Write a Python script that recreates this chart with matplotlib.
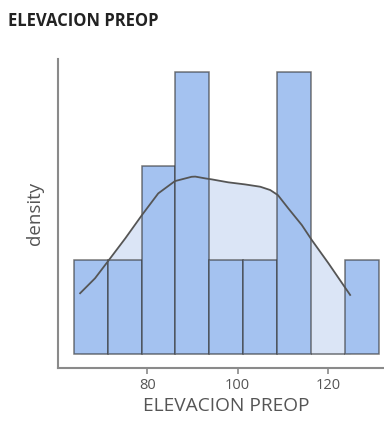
import matplotlib
matplotlib.use("Agg")
import matplotlib.pyplot as plt

# ── data ──────────────────────────────────────────────────────────────────────
bin_edges = [63.7, 71.2, 78.7, 86.2, 93.7, 101.2, 108.7, 116.2, 123.7, 131.2]
counts    = [1, 1, 2, 3, 1, 1, 3, 0, 1]

kde_x = [65.1, 68.4, 71.2, 75.1, 78.8, 82.4, 86.1, 89.8, 90.6, 92.8, 94.3,
         97.9, 101.6, 105.0, 107.2, 108.9, 111.2, 114.2, 116.4, 120.1, 124.9]
kde_y = [0.646, 0.805, 0.982, 1.230, 1.479, 1.709, 1.840, 1.886, 1.888, 1.869, 1.858,
         1.827, 1.805, 1.780, 1.745, 1.691, 1.550, 1.372, 1.213, 0.965, 0.628]

BAR_COLOR  = "#a4c2f0"
FILL_COLOR = "#dbe5f6"
LINE_COLOR = "#555555"
AXIS_COLOR = "#8a8a8a"

fig = plt.figure(figsize=(3.84, 4.23), dpi=100)
ax = fig.add_axes([0.151, 0.130, 0.849, 0.7305])

# KDE fill behind the bars, line on top
ax.fill_between(kde_x, kde_y, 0, color=FILL_COLOR, linewidth=0, zorder=1)
widths = [b - a for a, b in zip(bin_edges[:-1], bin_edges[1:])]
ax.bar(bin_edges[:-1], counts, width=widths, align="edge", color=BAR_COLOR,
       edgecolor=(0.2, 0.2, 0.2, 0.65), linewidth=1.1, zorder=2)
ax.plot(kde_x, kde_y, color=LINE_COLOR, linewidth=1.3, zorder=3,
        solid_joinstyle="round")

ax.set_xlim(60.2, 132.4)
ax.set_ylim(-0.15, 3.14)
ax.set_xticks([80, 100, 120])
ax.set_yticks([])

for side in ("top", "right"):
    ax.spines[side].set_visible(False)
for side in ("left", "bottom"):
    ax.spines[side].set_color(AXIS_COLOR)
    ax.spines[side].set_linewidth(1.5)

ax.tick_params(axis="x", colors=AXIS_COLOR, length=4, width=1.2,
               labelsize=10.5, labelcolor="#555555", pad=3)
for lbl in ax.get_xticklabels():
    lbl.set_family("Open Sans")

ax.set_xlabel("ELEVACION PREOP", fontsize=13.8, color="#555555",
              family="Open Sans")
ax.xaxis.set_label_coords(0.517, -0.095)
ax.set_ylabel("density", fontsize=13.5, color="#555555", labelpad=10,
              family="Open Sans")

fig.text(8 / 384, 1 - 26 / 423, "ELEVACION PREOP", fontsize=12,
         fontweight="bold", color="#222222", family="Open Sans")

plt.savefig("out.png", dpi=100)
